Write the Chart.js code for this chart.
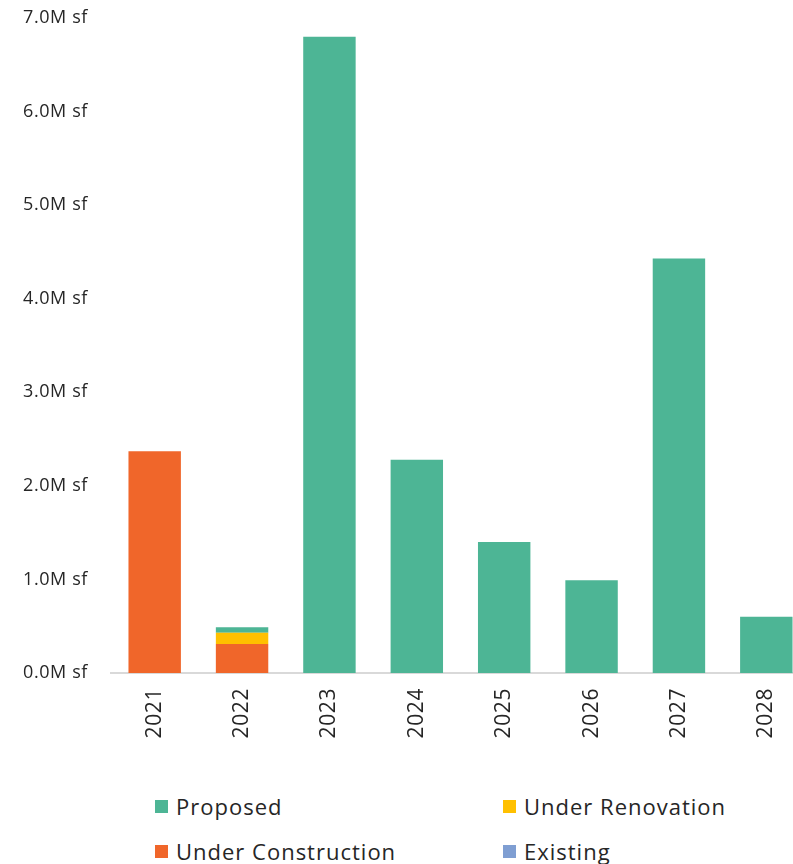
<!DOCTYPE html>
<html>
<head>
<meta charset="utf-8">
<script src="https://cdn.jsdelivr.net/npm/chart.js@4"></script>
<style>
  html, body { margin: 0; padding: 0; background: #fff; }
  body { width: 793px; height: 864px; overflow: hidden; position: relative; font-family: "Open Sans", sans-serif; }
  #wrap { position: absolute; left: 0; top: 0; width: 810px; height: 770px; }
  .lg { position: absolute; display: flex; align-items: center; font-size: 22px; letter-spacing: 1px; color: #262626; white-space: nowrap; }
  .sw { width: 13px; height: 13px; margin-right: 8px; }
</style>
</head>
<body>
<div id="wrap"><canvas id="c" width="810" height="770"></canvas></div>
<div id="legend"></div>
<script>
// Space deliveries by year, in millions of square feet
const years = ['2021', '2022', '2023', '2024', '2025', '2026', '2027', '2028'];
const underConstruction = [2.37, 0.31, 0, 0, 0, 0, 0, 0];
const underRenovation = [0, 0.12, 0, 0, 0, 0, 0, 0];
const proposed = [0, 0.06, 6.80, 2.28, 1.40, 0.99, 4.43, 0.60];
const existing = [0, 0, 0, 0, 0, 0, 0, 0];

const colors = {
  proposed: '#4DB595',
  renovation: '#FFC000',
  construction: '#F0662A',
  existing: '#7F9ED2'
};

const legendItems = [
  { label: 'Proposed', color: colors.proposed, x: 155, y: 806 },
  { label: 'Under Renovation', color: colors.renovation, x: 503, y: 806 },
  { label: 'Under Construction', color: colors.construction, x: 155, y: 851 },
  { label: 'Existing', color: colors.existing, x: 503, y: 851 }
];

const legend = document.getElementById('legend');
legendItems.forEach(it => {
  const d = document.createElement('div');
  d.className = 'lg';
  d.style.left = it.x + 'px';
  d.style.top = (it.y - 16) + 'px';
  d.style.height = '32px';
  const s = document.createElement('span');
  s.className = 'sw';
  s.style.background = it.color;
  d.appendChild(s);
  d.appendChild(document.createTextNode(it.label));
  legend.appendChild(d);
});

const spacing = {
  id: 'spacing',
  beforeDraw(chart) { chart.ctx.letterSpacing = '0.6px'; }
};

new Chart(document.getElementById('c'), {
  type: 'bar',
  data: {
    labels: years,
    datasets: [
      { label: 'Under Construction', data: underConstruction, backgroundColor: colors.construction },
      { label: 'Under Renovation', data: underRenovation, backgroundColor: colors.renovation },
      { label: 'Proposed', data: proposed, backgroundColor: colors.proposed },
      { label: 'Existing', data: existing, backgroundColor: colors.existing }
    ]
  },
  plugins: [spacing],
  options: {
    responsive: false,
    animation: false,
    layout: { padding: { top: 18, left: 0, right: 0, bottom: 0 } },
    datasets: { bar: { categoryPercentage: 1, barPercentage: 0.6, borderWidth: 0 } },
    plugins: { legend: { display: false }, tooltip: { enabled: false } },
    scales: {
      x: {
        stacked: true,
        grid: { display: false, drawTicks: false },
        border: { display: true, color: '#d9d9d9', width: 2 },
        ticks: {
          color: '#262626', font: { family: 'Open Sans', size: 21 },
          minRotation: 90, maxRotation: 90, padding: 15
        },
        afterFit(s) { s.height = 97; s.paddingTop = 0; s.paddingBottom = 0; }
      },
      y: {
        stacked: true,
        min: 0, max: 7,
        grid: { display: false, drawTicks: false },
        border: { display: false },
        ticks: {
          stepSize: 1, color: '#262626', padding: 23,
          font: { family: 'Open Sans', size: 18 },
          callback: v => v.toFixed(1) + 'M sf'
        },
        afterFit(s) { s.width = 111; s.paddingTop = 0; s.paddingBottom = 0; }
      }
    }
  }
});
</script>
</body>
</html>
